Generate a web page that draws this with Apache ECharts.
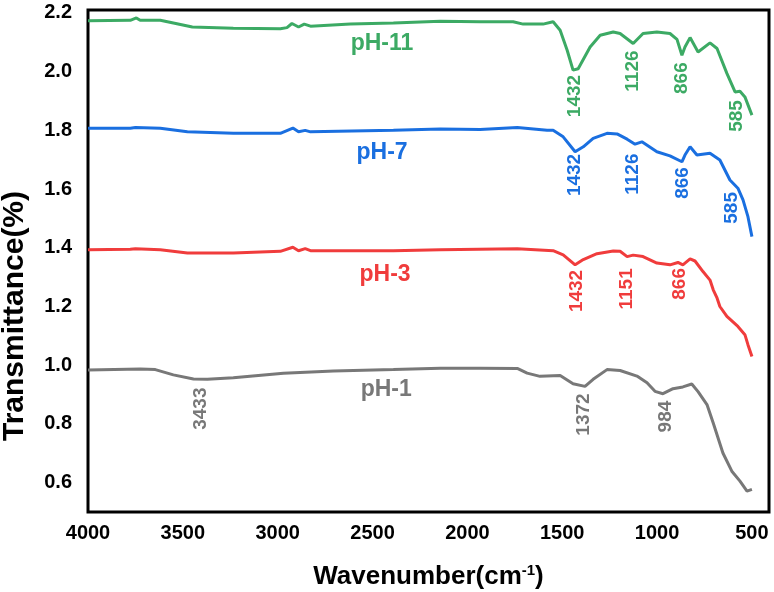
<!DOCTYPE html>
<html>
<head>
<meta charset="utf-8">
<script src="https://cdn.jsdelivr.net/npm/echarts@6/dist/echarts.min.js"></script>
<style>
  html, body { margin: 0; padding: 0; background: #fff; }
  #main { width: 774px; height: 592px; }
</style>
</head>
<body>
<div id="main"></div>
<script>
// FTIR spectra, wavenumber (cm-1) vs transmittance
var xTicks = [4000, 3500, 3000, 2500, 2000, 1500, 1000, 500];
var yTicks = [0.6, 0.8, 1.0, 1.2, 1.4, 1.6, 1.8, 2.0, 2.2];

var wnPH11 = [4000, 3777, 3745, 3725, 3619, 3550, 3450, 3234, 2986, 2951, 2925, 2890, 2860, 2827, 2617, 2390, 2143, 1933, 1759, 1706, 1601, 1548, 1511, 1474, 1443, 1416, 1353, 1300, 1231, 1195, 1126, 1074, 1001, 932, 895, 869, 853, 826, 784, 721, 684, 632, 589, 563, 537, 500];
var tPH11 = [2.173, 2.175, 2.183, 2.175, 2.175, 2.166, 2.152, 2.148, 2.146, 2.150, 2.164, 2.152, 2.162, 2.155, 2.162, 2.166, 2.172, 2.170, 2.170, 2.162, 2.162, 2.170, 2.141, 2.073, 2.005, 2.010, 2.084, 2.124, 2.135, 2.130, 2.096, 2.130, 2.135, 2.130, 2.110, 2.056, 2.084, 2.116, 2.067, 2.098, 2.079, 1.994, 1.931, 1.933, 1.914, 1.852];

var wnPH7 = [4000, 3777, 3750, 3619, 3476, 3234, 2986, 2920, 2890, 2855, 2827, 2390, 2143, 1933, 1737, 1580, 1548, 1495, 1432, 1389, 1337, 1264, 1211, 1158, 1116, 1080, 1001, 932, 869, 853, 826, 790, 721, 669, 616, 574, 547, 521, 500];
var tPH7 = [1.807, 1.807, 1.810, 1.807, 1.795, 1.790, 1.790, 1.808, 1.795, 1.800, 1.795, 1.800, 1.805, 1.803, 1.810, 1.800, 1.800, 1.778, 1.727, 1.744, 1.773, 1.790, 1.788, 1.770, 1.753, 1.761, 1.727, 1.713, 1.693, 1.716, 1.744, 1.716, 1.722, 1.699, 1.631, 1.603, 1.563, 1.506, 1.438];

var wnPH3 = [4000, 3777, 3750, 3619, 3476, 3234, 2986, 2920, 2890, 2855, 2827, 2390, 2143, 1737, 1548, 1495, 1432, 1389, 1317, 1231, 1195, 1158, 1126, 1074, 1001, 932, 890, 864, 826, 800, 758, 721, 704, 684, 669, 632, 574, 537, 521, 500];
var tPH3 = [1.393, 1.395, 1.397, 1.393, 1.382, 1.382, 1.388, 1.402, 1.390, 1.397, 1.390, 1.390, 1.393, 1.397, 1.390, 1.376, 1.342, 1.360, 1.380, 1.389, 1.388, 1.370, 1.375, 1.370, 1.348, 1.342, 1.350, 1.342, 1.362, 1.355, 1.319, 1.290, 1.257, 1.229, 1.200, 1.166, 1.132, 1.104, 1.070, 1.030];

var wnPH1 = [4000, 3724, 3645, 3550, 3444, 3371, 3234, 2970, 2706, 2390, 2143, 1933, 1737, 1685, 1617, 1511, 1443, 1380, 1337, 1264, 1195, 1106, 1053, 1011, 969, 916, 864, 817, 784, 737, 704, 653, 606, 563, 526, 500];
var tPH1 = [0.984, 0.987, 0.985, 0.967, 0.953, 0.952, 0.957, 0.973, 0.980, 0.985, 0.990, 0.990, 0.989, 0.973, 0.962, 0.965, 0.937, 0.928, 0.952, 0.985, 0.982, 0.963, 0.940, 0.911, 0.903, 0.920, 0.926, 0.936, 0.910, 0.866, 0.803, 0.701, 0.639, 0.605, 0.571, 0.577];

// text annotations: [text, wavenumber, transmittance] of the label centre
var namesAt = {
  'pH-11': [2450, 2.094],
  'pH-7': [2450, 1.723],
  'pH-3': [2434, 1.308],
  'pH-1': [2428, 0.917]
};
var peaksPH11 = [['1432', 1433, 1.917], ['1126', 1127, 2.002], ['866', 869, 1.978], ['585', 579, 1.849]];
var peaksPH7 = [['1432', 1433, 1.648], ['1126', 1127, 1.651], ['866', 863, 1.621], ['585', 605, 1.536]];
var peaksPH3 = [['1432', 1425, 1.253], ['1151', 1158, 1.260], ['866', 879, 1.277]];
var peaksPH1 = [['3433', 3407, 0.852], ['1372', 1385, 0.832], ['984', 953, 0.825]];

var FONT = "'Liberation Sans', Arial, sans-serif";

function pairs(xs, ys) {
  var out = [];
  for (var i = 0; i < xs.length; i++) out.push([xs[i], ys[i]]);
  return out;
}

function makeSeries(name, xs, ys, peaks, color) {
  var marks = [{
    name: name,
    coord: namesAt[name],
    label: { show: true, position: 'inside', formatter: '{b}', color: color,
      fontFamily: FONT, fontSize: 23, fontWeight: 'bold' }
  }];
  peaks.forEach(function (p) {
    marks.push({
      name: p[0],
      coord: [p[1], p[2]],
      label: { show: true, position: 'inside', formatter: '{b}', color: color, rotate: 90,
        fontFamily: FONT, fontSize: 19, fontWeight: 'bold' }
    });
  });
  return {
    name: name,
    type: 'line',
    data: pairs(xs, ys),
    showSymbol: false,
    symbol: 'none',
    lineStyle: { color: color, width: 3 },
    itemStyle: { color: color },
    markPoint: {
      symbol: 'circle',
      symbolSize: 1,
      itemStyle: { color: 'rgba(0,0,0,0)' },
      silent: true,
      data: marks
    }
  };
}

var myChart = echarts.init(document.getElementById('main'));
myChart.setOption({
  animation: false,
  grid: {
    left: 88, right: 5, top: 10, bottom: 80,
    outerBoundsMode: 'none',
    containLabel: false,
    show: true, borderColor: '#000', borderWidth: 3, backgroundColor: '#fff'
  },
  xAxis: {
    type: 'value',
    inverse: true,
    min: 410,
    max: 4000,
    splitLine: { show: false },
    axisLine: { show: false },
    axisTick: { show: false, customValues: xTicks },
    axisLabel: {
      customValues: xTicks,
      margin: 11,
      formatter: function (v) { return String(v); },
      color: '#000', fontFamily: FONT, fontSize: 20, fontWeight: 'bold'
    },
    name: '{a|Wavenumber(cm}{s|-1}{a|)}',
    nameLocation: 'middle',
    nameGap: 51,
    nameTextStyle: {
      rich: {
        a: { fontFamily: FONT, fontSize: 26, fontWeight: 'bold', color: '#000' },
        s: { fontFamily: FONT, fontSize: 15, fontWeight: 'bold', color: '#000', padding: [0, 0, 12, 0] }
      }
    }
  },
  yAxis: {
    type: 'value',
    min: 0.5,
    max: 2.21,
    splitLine: { show: false },
    axisLine: { show: false },
    axisTick: { show: false, customValues: yTicks },
    axisLabel: {
      customValues: yTicks,
      margin: 16,
      formatter: function (v) { return v.toFixed(1); },
      color: '#000', fontFamily: FONT, fontSize: 20, fontWeight: 'bold'
    },
    name: 'Transmittance(%)',
    nameLocation: 'middle',
    nameGap: 58,
    nameTextStyle: {
      fontFamily: FONT, fontSize: 30, fontWeight: 'bold', color: '#000',
      padding: [0, 110, 0, 0]
    }
  },
  series: [
    makeSeries('pH-11', wnPH11, tPH11, peaksPH11, '#3caa64'),
    makeSeries('pH-7', wnPH7, tPH7, peaksPH7, '#1a6fe0'),
    makeSeries('pH-3', wnPH3, tPH3, peaksPH3, '#f03c3c'),
    makeSeries('pH-1', wnPH1, tPH1, peaksPH1, '#787878')
  ]
});
</script>
</body>
</html>
